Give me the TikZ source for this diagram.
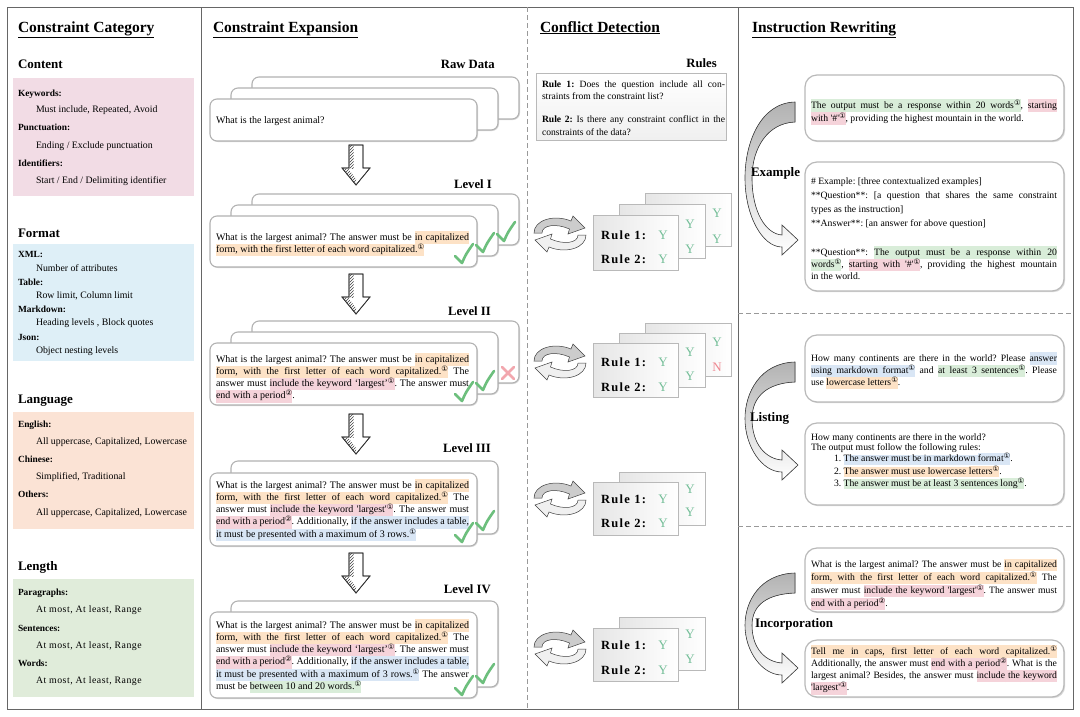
\documentclass[tikz,border=0pt]{standalone}
\usepackage{fontspec}
\setmainfont{Liberation Serif}
\newfontfamily\symfont{DejaVu Sans}
\newfontfamily\rulefont[LetterSpace=10]{Liberation Serif}
\newfontfamily\lsfont[LetterSpace=5]{Liberation Serif}
\usetikzlibrary{shadows,patterns}
\definecolor{boxpink}{HTML}{F2DCE5}
\definecolor{boxblue}{HTML}{DEEFF7}
\definecolor{boxorange}{HTML}{FBE3D5}
\definecolor{boxgreen}{HTML}{E0ECDA}
\definecolor{hlO}{HTML}{FDE2C6}
\definecolor{hlP}{HTML}{F5D3DA}
\definecolor{hlB}{HTML}{D9E6F5}
\definecolor{hlG}{HTML}{D9EDD9}
\definecolor{chkgreen}{HTML}{6DBF7D}
\definecolor{ygreen}{HTML}{74BE98}
\definecolor{nred}{HTML}{EE8790}
\definecolor{xred}{HTML}{F2A7AE}
\frenchspacing
\newcommand\cnum[1]{\raisebox{3pt}{\fontsize{7.4}{7.4}\symfont\ifcase#1\or ①\or ②\fi}}
\newcommand\HLT[2]{{\def\hlcol{#1}\hlparse#2 \hlend}}
\def\hlparse#1 #2\hlend{\hlbox{#1}\ifx\relax#2\relax\else\hlspace\hlparse#2\hlend\fi}
\def\hlbox#1{{\fboxsep=0pt\colorbox{\hlcol}{\strut#1}}}
\def\hlspace{{\color{\hlcol}\leaders\vrule height\ht\strutbox depth\dp\strutbox\hskip\fontdimen2\font plus\fontdimen3\font minus\fontdimen4\font\relax}}
\newcommand\JL[1]{\makebox[\linewidth][s]{#1}\\}
\newcommand\cardfont{\fontsize{10}{12.3}\selectfont}
\newcommand\rwfont{\fontsize{9.7}{12.3}\selectfont}
\newcommand\ckmark[2]{\draw[chkmark] (#1-7,#2-7) .. controls (#1-4,#2-4) .. (#1,#2) .. controls (#1+4,#2-9) .. (#1+11,#2-19);}
\newcommand\xmarkk[2]{\draw[xmarkst] (#1-6,#2-6) -- (#1+6,#2+6) (#1-6,#2+6) -- (#1+6,#2-6);}
\newcommand\downblock[2]{%
\begin{scope}[shift={(#1,#2)}]
\filldraw[fill=white, draw=black!80, line width=0.7pt] (-7,0) -- (7,0) -- (7,23) -- (14,23) -- (0,40) -- (-14,23) -- (-7,23) -- cycle;
\fill[pattern=north east lines, pattern color=black!75] (-6.5,0.5) rectangle (-2.5,23.5);
\fill[pattern=north east lines, pattern color=black!75] (-13,23.5) -- (-8,23.5) -- (0,34) -- (0,39) -- cycle;
\draw[black!80, line width=0.7pt] (-7,0) -- (7,0) -- (7,23) -- (14,23) -- (0,40) -- (-14,23) -- (-7,23) -- cycle;
\end{scope}}
\newcommand\refreshhalf[1]{\filldraw[ricon, fill=#1] (-26,-1) .. controls (-26,-14) and (-6,-20) .. (11,-13) -- (13,-18) -- (25,-6) -- (8,0) -- (9.5,-5) .. controls (-4,-11) and (-18,-9) .. (-18,-1) -- cycle;}
\newcommand\refreshicon[2]{\begin{scope}[shift={(#1,#2)}]\refreshhalf{gray!40}\begin{scope}[rotate=180]\refreshhalf{gray!12}\end{scope}\end{scope}}
\newcommand\curvearrowR[2]{%
\pgfmathsetmacro\cya{#1}\pgfmathsetmacro\cyb{#2}\pgfmathsetmacro\cyh{#2-#1}%
\filldraw[carrow] (795,\cya) .. controls (760,\cya+1) and (745,\cya+0.3*\cyh) .. (745,\cya+0.55*\cyh) .. controls (745,\cya+0.82*\cyh) and (762,\cyb+7) .. (782,\cyb+7) -- (782,\cyb+15) -- (798,\cyb) -- (782,\cyb-15) -- (782,\cyb-5) .. controls (766,\cyb-6) and (752,\cya+0.8*\cyh) .. (752,\cya+0.55*\cyh) .. controls (752,\cya+0.33*\cyh) and (768,\cya+21) .. (795,\cya+20) -- cycle;}
\begin{document}
\begin{tikzpicture}[x=1pt,y=-1pt,
 txt/.style={anchor=base west, inner sep=0pt, outer sep=0pt},
 hdr/.style={txt, font=\bfseries\fontsize{15.5}{18}\selectfont},
 cathead/.style={txt, font=\bfseries\fontsize{13}{15}\selectfont},
 catlbl/.style={txt, font=\bfseries\fontsize{9.4}{11}\selectfont},
 catitem/.style={txt, font=\fontsize{9.8}{11}\selectfont},
 catls/.style={txt, font=\fontsize{9.8}{11}\lsfont},
 lvl/.style={anchor=base east, inner sep=0pt, font=\bfseries\fontsize{12.7}{14}\selectfont},
 sect/.style={txt, font=\bfseries\fontsize{13}{15}\selectfont},
 card/.style={draw=gray!60, line width=1.1pt, fill=white, rounded corners=7pt, drop shadow={shadow xshift=1pt, shadow yshift=-1pt, opacity=0.3}},
 rbox/.style={draw=gray!55, line width=1.2pt, fill=white, rounded corners=12pt, drop shadow={shadow xshift=1.2pt, shadow yshift=-1.2pt, opacity=0.3}},
 rcard/.style={draw=gray!55, line width=0.7pt, left color=gray!20, right color=white, drop shadow={shadow xshift=1pt, shadow yshift=-1pt, opacity=0.3}},
 rulesbox/.style={draw=gray!55, line width=0.7pt, top color=white, bottom color=gray!12, drop shadow={shadow xshift=1pt, shadow yshift=-1pt, opacity=0.3}},
 rlab/.style={anchor=west, inner sep=0pt, font=\fontsize{12.5}{14}\rulefont\bfseries},
 ylab/.style={anchor=center, inner sep=0pt, text=ygreen, font=\fontsize{13}{14}\selectfont},
 nlab/.style={ylab, text=nred},
 chkmark/.style={draw=chkgreen, line width=2.6pt, line cap=round, line join=round},
 xmarkst/.style={draw=xred, line width=2.6pt, line cap=round},
 carrow/.style={top color=gray!60, bottom color=white, draw=black!75, line width=0.6pt},
 ricon/.style={draw=black!75, line width=0.5pt},
 frameln/.style={draw=black!60, line width=1pt},
 sepln/.style={draw=black!40, line width=0.8pt, dash pattern=on 5pt off 3pt}]
\useasboundingbox (0,0) rectangle (1080,716);
\fill[white] (0,0) rectangle (1080,716);
% frame
\draw[frameln] (7,7) rectangle (1073,709);
\draw[frameln] (201,7) -- (201,709);
\draw[frameln] (738,7) -- (738,709);
\draw[sepln] (527,7) -- (527,709);
\draw[sepln] (738,313) -- (1073,313);
\draw[sepln] (738,526) -- (1073,526);
% headers
\node[hdr] (hA) at (18,32) {\underline{Constraint Category}};
\node[hdr] (hB) at (213,32) {\underline{Constraint Expansion}};
\node[hdr] (hC) at (540,32) {\underline{Conflict Detection}};
\node[hdr] (hD) at (752,32) {\underline{Instruction Rewriting}};
% ---------- left column
\node[cathead] (cat1) at (18,68) {Content};
\fill[boxpink] (13,78) rectangle (194,196);
\node[catlbl] (k1) at (18,96) {Keywords:};
\node[catitem] (k2) at (36,112) {Must include, Repeated, Avoid};
\node[catlbl] (k3) at (18,130) {Punctuation:};
\node[catitem] (k4) at (36,148) {Ending / Exclude punctuation};
\node[catlbl] (k5) at (18,166) {Identifiers:};
\node[catitem] (k6) at (36,183) {Start / End / Delimiting identifier};
\node[cathead] (cat2) at (18,237) {Format};
\fill[boxblue] (13,244) rectangle (194,361);
\node[catlbl] (f1) at (18,257) {XML:};
\node[catitem] (f2) at (36,271) {Number of attributes};
\node[catlbl] (f3) at (18,285) {Table:};
\node[catitem] (f4) at (36,298) {Row limit, Column limit};
\node[catlbl] (f5) at (18,312) {Markdown:};
\node[catitem] (f6) at (36,325) {Heading levels , Block quotes};
\node[catlbl] (f7) at (18,340) {Json:};
\node[catitem] (f8) at (36,353) {Object nesting levels};
\node[cathead] (cat3) at (18,403) {Language};
\fill[boxorange] (13,412) rectangle (194,529);
\node[catlbl] (g1) at (18,427) {English:};
\node[catitem] (g2) at (36,444) {All uppercase, Capitalized, Lowercase};
\node[catlbl] (g3) at (18,462) {Chinese:};
\node[catitem] (g4) at (36,479) {Simplified, Traditional};
\node[catlbl] (g5) at (18,497) {Others:};
\node[catitem] (g6) at (36,515) {All uppercase, Capitalized, Lowercase};
\node[cathead] (cat4) at (18,570) {Length};
\fill[boxgreen] (13,579) rectangle (194,697);
\node[catlbl] (m1) at (18,595) {Paragraphs:};
\node[catls] (m2) at (36,612) {At most, At least, Range};
\node[catlbl] (m3) at (18,631) {Sentences:};
\node[catls] (m4) at (36,648) {At most, At least, Range};
\node[catlbl] (m5) at (18,666) {Words:};
\node[catls] (m6) at (36,683) {At most, At least, Range};
% ---------- constraint expansion
\node[lvl] (lv0) at (495,68) {Raw Data};
\draw[card] (252,77) rectangle (519,119);
\draw[card] (231,88) rectangle (498,130);
\draw[card] (210,99) rectangle (477,141);
\node[txt, font=\cardfont] (t0) at (216,123) {What is the largest animal?};
\downblock{356}{145}
\node[lvl] (lv1) at (492,188) {Level I};
\draw[card] (252,194) rectangle (519,245);
\draw[card] (231,205) rectangle (498,256);
\draw[card] (210,216) rectangle (477,267);
\node[txt] (t1) at (216,240) {\parbox[t]{253pt}{\cardfont
\JL{What is the largest animal? The answer must be \HLT{hlO}{in capitalized}}
\HLT{hlO}{form, with the first letter of each word capitalized.\cnum1}}};
\downblock{356}{274}
\node[lvl] (lv2) at (491,315) {Level II};
\draw[card] (252,321) rectangle (519,383);
\draw[card] (231,332) rectangle (498,394);
\draw[card] (210,343) rectangle (477,405);
\node[txt] (t2) at (216,362) {\parbox[t]{253pt}{\cardfont
\JL{What is the largest animal? The answer must be \HLT{hlO}{in capitalized}}
\JL{\HLT{hlO}{form, with the first letter of each word capitalized.\cnum1} The}
\JL{answer must \HLT{hlP}{include the keyword ‘largest’\cnum1}. The answer must}
\HLT{hlP}{end with a period\cnum2}.}};
\downblock{356}{414}
\node[lvl] (lv3) at (491,452) {Level III};
\draw[card] (231,461) rectangle (498,534);
\draw[card] (210,473) rectangle (477,546);
\node[txt] (t3) at (216,488) {\parbox[t]{253pt}{\cardfont
\JL{What is the largest animal? The answer must be \HLT{hlO}{in capitalized}}
\JL{\HLT{hlO}{form, with the first letter of each word capitalized.\cnum1} The}
\JL{answer must \HLT{hlP}{include the keyword \textquotesingle largest\textquotesingle\cnum1}. The answer must}
\JL{\HLT{hlP}{end with a period\cnum2}. Additionally, \HLT{hlB}{if the answer includes a table,}}
\HLT{hlB}{it must be presented with a maximum of 3 rows.\cnum1}}};
\downblock{356}{553}
\node[lvl] (lv4) at (491,593) {Level IV};
\draw[card] (231,601) rectangle (498,687);
\draw[card] (210,612) rectangle (477,698);
\node[txt] (t4) at (216,628) {\parbox[t]{253pt}{\cardfont
\JL{What is the largest animal? The answer must be \HLT{hlO}{in capitalized}}
\JL{\HLT{hlO}{form, with the first letter of each word capitalized.\cnum1} The}
\JL{answer must \HLT{hlP}{include the keyword ‘largest’\cnum1}. The answer must}
\JL{\HLT{hlP}{end with a period\cnum2}. Additionally, \HLT{hlB}{if the answer includes a table,}}
\JL{\HLT{hlB}{it must be presented with a maximum of 3 rows.\cnum1} The answer}
must be \HLT{hlG}{between 10 and 20 words.\cnum1}}};
% checks
\ckmark{504}{241}\ckmark{483}{252}\ckmark{462}{263}
\xmarkk{508}{373}\ckmark{483}{390}\ckmark{462}{401}
\ckmark{483}{530}\ckmark{462}{542}
\ckmark{483}{683}\ckmark{462}{695}
% ---------- conflict detection
\node[lvl] (rl) at (717,67) {Rules};
\draw[rulesbox] (536,73) rectangle (726,140);
\node[txt] (rp1) at (542,87) {\parbox[t]{183pt}{\fontsize{9.6}{12.6}\selectfont
\JL{\textbf{Rule 1:} Does the question include all con-}
straints from the constraint list?}};
\node[txt] (rp2) at (542,122.5) {\parbox[t]{183pt}{\fontsize{9.6}{12.6}\selectfont
\JL{\textbf{Rule 2:} Is there any constraint conflict in the}
constraints of the data?}};
% level I rules
\refreshicon{560}{234}
\draw[rcard] (645,193) rectangle (731,246);
\node[ylab] (y1c1) at (717,213) {Y};
\node[ylab] (y1c2) at (717,239) {Y};
\draw[rcard] (619,204) rectangle (705,258);
\node[ylab] (y1b1) at (690,224) {Y};
\node[ylab] (y1b2) at (690,249) {Y};
\draw[rcard] (593,215) rectangle (678,270);
\node[rlab] (r1a) at (601,235) {Rule 1:};
\node[ylab] (y1a1) at (663,235) {Y};
\node[rlab] (r1b) at (601,259) {Rule 2:};
\node[ylab] (y1a2) at (663,259) {Y};
% level II rules
\refreshicon{560}{362}
\draw[rcard] (645,323) rectangle (731,376);
\node[ylab] (y2c1) at (717,342) {Y};
\node[nlab] (y2c2) at (717,367) {N};
\draw[rcard] (619,333) rectangle (705,387);
\node[ylab] (y2b1) at (690,352) {Y};
\node[ylab] (y2b2) at (690,376) {Y};
\draw[rcard] (593,343) rectangle (678,397);
\node[rlab] (r2a) at (601,362) {Rule 1:};
\node[ylab] (y2a1) at (663,362) {Y};
\node[rlab] (r2b) at (601,387) {Rule 2:};
\node[ylab] (y2a2) at (663,387) {Y};
% level III rules
\refreshicon{560}{499}
\draw[rcard] (619,472) rectangle (705,525);
\node[ylab] (y3b1) at (690,489) {Y};
\node[ylab] (y3b2) at (690,512) {Y};
\draw[rcard] (593,482) rectangle (678,535);
\node[rlab] (r3a) at (601,499) {Rule 1:};
\node[ylab] (y3a1) at (663,499) {Y};
\node[rlab] (r3b) at (601,523) {Rule 2:};
\node[ylab] (y3a2) at (663,523) {Y};
% level IV rules
\refreshicon{560}{648}
\draw[rcard] (619,617) rectangle (705,670);
\node[ylab] (y4b1) at (690,634) {Y};
\node[ylab] (y4b2) at (690,659) {Y};
\draw[rcard] (593,628) rectangle (678,681);
\node[rlab] (r4a) at (601,645) {Rule 1:};
\node[ylab] (y4a1) at (663,645) {Y};
\node[rlab] (r4b) at (601,670) {Rule 2:};
\node[ylab] (y4a2) at (663,670) {Y};
% ---------- instruction rewriting
\curvearrowR{102}{240}
\curvearrowR{362}{465}
\curvearrowR{573}{668}
\draw[rbox] (805,75) rectangle (1064,141);
\draw[rbox] (805,162) rectangle (1064,291);
\draw[rbox] (805,335) rectangle (1064,402);
\draw[rbox] (805,423) rectangle (1064,505);
\draw[rbox] (805,548) rectangle (1064,612);
\draw[rbox] (805,640) rectangle (1064,697);
\node[sect] (s1) at (751,176) {Example};
\node[sect] (s2) at (750,421) {Listing};
\node[sect] (s3) at (755,627) {Incorporation};
\node[txt] (e1) at (811,108.5) {\parbox[t]{246pt}{\fontsize{9.7}{13}\selectfont
\JL{\HLT{hlG}{The output must be a response within 20 words\cnum1}, \HLT{hlP}{starting}}
\HLT{hlP}{with \textquotesingle\#\textquotesingle\cnum1}, providing the highest mountain in the world.}};
\node[txt] (e2) at (811,184) {\parbox[t]{246pt}{\fontsize{9.7}{14}\selectfont
\# Example: [three contextualized examples]\\\relax
\JL{**Question**: [a question that shares the same constraint}\relax
types as the instruction]\\\relax
**Answer**: [an answer for above question]}};
\node[txt] (e3) at (811,255) {\parbox[t]{246pt}{\rwfont
\JL{**Question**: \HLT{hlG}{The output must be a response within 20}}
\JL{\HLT{hlG}{words\cnum1}, \HLT{hlP}{starting with \textquotesingle\#\textquotesingle\cnum1}, providing the highest mountain}
in the world.}};
\node[txt] (li1) at (811,361) {\parbox[t]{246pt}{\rwfont
\JL{How many continents are there in the world? Please \HLT{hlB}{answer}}
\JL{\HLT{hlB}{using markdown format\cnum1} and \HLT{hlG}{at least 3 sentences\cnum1}. Please}
use \HLT{hlO}{lowercase letters\cnum1}.}};
\node[txt] (li2) at (811,440) {\parbox[t]{246pt}{\fontsize{9.7}{10}\selectfont
How many continents are there in the world?\\
The output must follow the following rules:\\
\hspace*{23pt}1. \HLT{hlB}{The answer must be in markdown format\cnum1}.\\
\hspace*{23pt}2. \HLT{hlO}{The answer must use lowercase letters\cnum1}.\\
\hspace*{23pt}3. \HLT{hlG}{The answer must be at least 3 sentences long\cnum1}.}};
\node[txt] (in1) at (811,567) {\parbox[t]{246pt}{\fontsize{9.7}{12}\selectfont
\JL{What is the largest animal? The answer must be \HLT{hlO}{in capitalized}}
\JL{\HLT{hlO}{form, with the first letter of each word capitalized.\cnum1} The}
\JL{answer must \HLT{hlP}{include the keyword \textquotesingle largest\textquotesingle\cnum1}. The answer must}
\HLT{hlP}{end with a period\cnum2}.}};
\node[txt] (in2) at (811,654) {\parbox[t]{246pt}{\rwfont
\JL{\HLT{hlO}{Tell me in caps, first letter of each word capitalized.\cnum1}}
\JL{Additionally, the answer must \HLT{hlP}{end with a period\cnum2}. What is the}
\JL{largest animal? Besides, the answer must \HLT{hlP}{include the keyword}}
\HLT{hlP}{\textquotesingle largest\textquotesingle\cnum1}.}};
\end{tikzpicture}
\end{document}
